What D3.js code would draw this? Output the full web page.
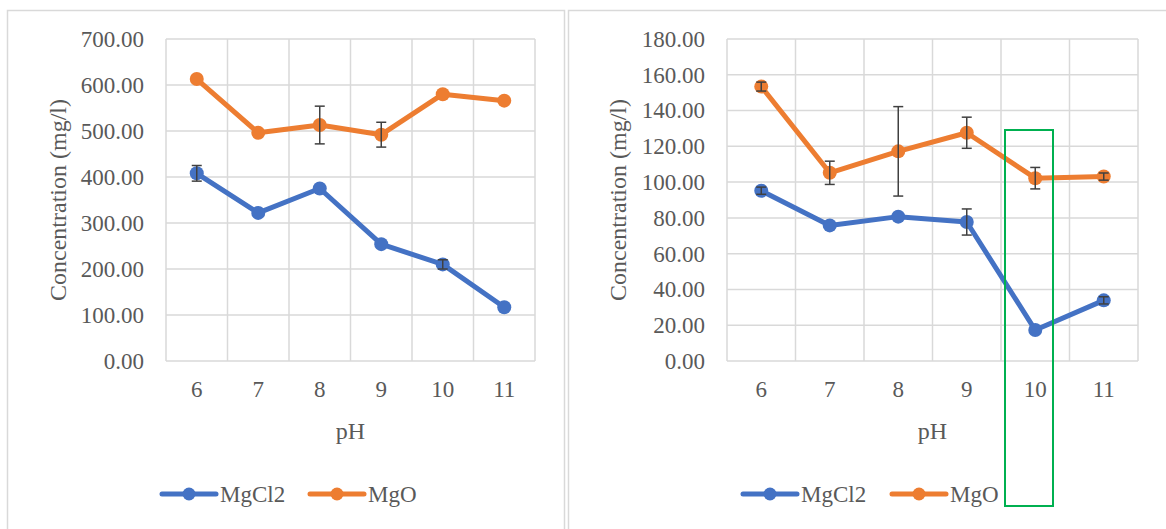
<!DOCTYPE html>
<html>
<head>
<meta charset="utf-8">
<script src="https://cdn.jsdelivr.net/npm/d3@7"></script>
<style>
  body { margin: 0; background: #fff; }
  svg { display: block; }
</style>
</head>
<body>
<div id="chart"></div>
<script>
// pH categories shared by both charts
const phLevels = ["6", "7", "8", "9", "10", "11"];

// Left chart
const leftYTicks = [0, 100, 200, 300, 400, 500, 600, 700];
const leftMgCl2 = [408, 322, 375, 254, 210, 117];
const leftMgCl2Err = [17, 0, 0, 0, 10, 0];
const leftMgO = [613, 496, 513, 492, 580, 566];
const leftMgOErr = [0, 0, 41, 27, 0, 0];

// Right chart
const rightYTicks = [0, 20, 40, 60, 80, 100, 120, 140, 160, 180];
const rightMgCl2 = [95.2, 75.8, 80.7, 77.7, 17.3, 33.9];
const rightMgCl2Err = [2, 0, 0, 7.3, 0, 2];
const rightMgO = [153.4, 105.2, 117.2, 127.6, 102.2, 103.1];
const rightMgOErr = [2.5, 6.5, 25, 8.7, 6, 2];

const seriesNames = ["MgCl2", "MgO"];
const colors = ["#4472c4", "#ed7d31"];

const width = 1166, height = 529;
const serif = "'Liberation Serif', 'DejaVu Serif', serif";
const textColor = "#595959";

const svg = d3.select("#chart")
    .append("svg")
    .attr("width", width)
    .attr("height", height)
    .style("font-family", serif);

// chart frames
svg.append("rect")
    .attr("x", 7.5).attr("y", 10.5)
    .attr("width", 557).attr("height", 540)
    .attr("fill", "none").attr("stroke", "#d9d9d9").attr("stroke-width", 1.5);
svg.append("rect")
    .attr("x", 568.5).attr("y", 10.5)
    .attr("width", 620).attr("height", 540)
    .attr("fill", "none").attr("stroke", "#d9d9d9").attr("stroke-width", 1.5);

const drawChart = (opts) => {
    const x = d3.scaleBand()
        .domain(phLevels)
        .range([opts.left, opts.right]);

    const y = d3.scaleLinear()
        .domain([0, d3.max(opts.yTicks)])
        .range([361, 39]);

    const g = svg.append("g");

    // horizontal gridlines
    g.selectAll(".hgrid")
        .data(opts.yTicks)
        .join("line")
        .attr("x1", opts.left).attr("x2", opts.right)
        .attr("y1", d => y(d)).attr("y2", d => y(d))
        .attr("stroke", "#d9d9d9").attr("stroke-width", 1.5);

    // vertical gridlines on band edges
    const edges = phLevels.map(d => x(d)).concat([opts.right]);
    g.selectAll(".vgrid")
        .data(edges)
        .join("line")
        .attr("x1", d => d).attr("x2", d => d)
        .attr("y1", y(d3.max(opts.yTicks))).attr("y2", y(0))
        .attr("stroke", "#d9d9d9").attr("stroke-width", 1.5);

    // axes, text only
    const leftAxis = d3.axisLeft(y)
        .tickValues(opts.yTicks)
        .tickFormat(d3.format(".2f"))
        .tickSize(0)
        .tickPadding(22);
    g.append("g")
        .attr("transform", `translate(${opts.left},0)`)
        .call(leftAxis)
        .call(a => a.select(".domain").remove())
        .attr("font-family", serif)
        .attr("font-size", 23)
        .call(a => a.selectAll("text").attr("fill", textColor));

    const bottomAxis = d3.axisBottom(x).tickSize(0).tickPadding(20);
    g.append("g")
        .attr("transform", `translate(0,${y(0)})`)
        .call(bottomAxis)
        .call(a => a.select(".domain").remove())
        .attr("font-family", serif)
        .attr("font-size", 23)
        .call(a => a.selectAll("text").attr("fill", textColor));

    g.append("text")
        .attr("font-family", serif)
        .attr("font-size", 24)
        .attr("fill", textColor)
        .attr("text-anchor", "middle")
        .attr("x", (opts.left + opts.right) / 2)
        .attr("y", 439)
        .text("pH");

    g.append("text")
        .attr("font-family", serif)
        .attr("font-size", 24)
        .attr("fill", textColor)
        .attr("text-anchor", "middle")
        .attr("transform", `translate(${opts.titleX},200) rotate(-90)`)
        .text("Concentration (mg/l)");

    const cx = d => x(d) + x.bandwidth() / 2;

    opts.series.forEach((s, i) => {
        const line = d3.line()
            .x((d, j) => cx(phLevels[j]))
            .y(d => y(d));

        g.append("path")
            .datum(s.values)
            .attr("fill", "none")
            .attr("stroke", colors[i])
            .attr("stroke-width", 5)
            .attr("stroke-linejoin", "round")
            .attr("d", line);

        g.selectAll(null)
            .data(s.values)
            .join("circle")
            .attr("cx", (d, j) => cx(phLevels[j]))
            .attr("cy", d => y(d))
            .attr("r", 7)
            .attr("fill", colors[i]);
    });

    // error bars drawn on top
    opts.series.forEach(s => {
        s.values.forEach((v, j) => {
            const e = s.err[j];
            if (!e) return;
            const px = cx(phLevels[j]);
            const eg = g.append("g")
                .attr("stroke", "#404040")
                .attr("stroke-width", 1.5);
            eg.append("line")
                .attr("x1", px).attr("x2", px)
                .attr("y1", y(v - e)).attr("y2", y(v + e));
            [v - e, v + e].forEach(t => {
                eg.append("line")
                    .attr("x1", px - 5).attr("x2", px + 5)
                    .attr("y1", y(t)).attr("y2", y(t));
            });
        });
    });

    // legend
    const legend = g.append("g");
    opts.legendX.forEach((lx, i) => {
        legend.append("line")
            .attr("x1", lx).attr("x2", lx + 54)
            .attr("y1", 494).attr("y2", 494)
            .attr("stroke", colors[i])
            .attr("stroke-width", 5)
            .attr("stroke-linecap", "round");
        legend.append("circle")
            .attr("cx", lx + 27).attr("cy", 494)
            .attr("r", 6.5)
            .attr("fill", colors[i]);
        legend.append("text")
            .attr("font-family", serif)
            .attr("font-size", 23)
            .attr("fill", textColor)
            .attr("x", lx + 58)
            .attr("y", 502)
            .text(seriesNames[i]);
    });
};

drawChart({
    left: 166, right: 535, titleX: 66,
    yTicks: leftYTicks,
    series: [
        { values: leftMgCl2, err: leftMgCl2Err },
        { values: leftMgO, err: leftMgOErr }
    ],
    legendX: [162, 310]
});

drawChart({
    left: 727, right: 1138, titleX: 626,
    yTicks: rightYTicks,
    series: [
        { values: rightMgCl2, err: rightMgCl2Err },
        { values: rightMgO, err: rightMgOErr }
    ],
    legendX: [743, 892]
});

// green highlight box around pH 10 on the right chart
svg.append("rect")
    .attr("x", 1005).attr("y", 130)
    .attr("width", 48).attr("height", 376)
    .attr("fill", "none")
    .attr("stroke", "#00b050")
    .attr("stroke-width", 2);
</script>
</body>
</html>
